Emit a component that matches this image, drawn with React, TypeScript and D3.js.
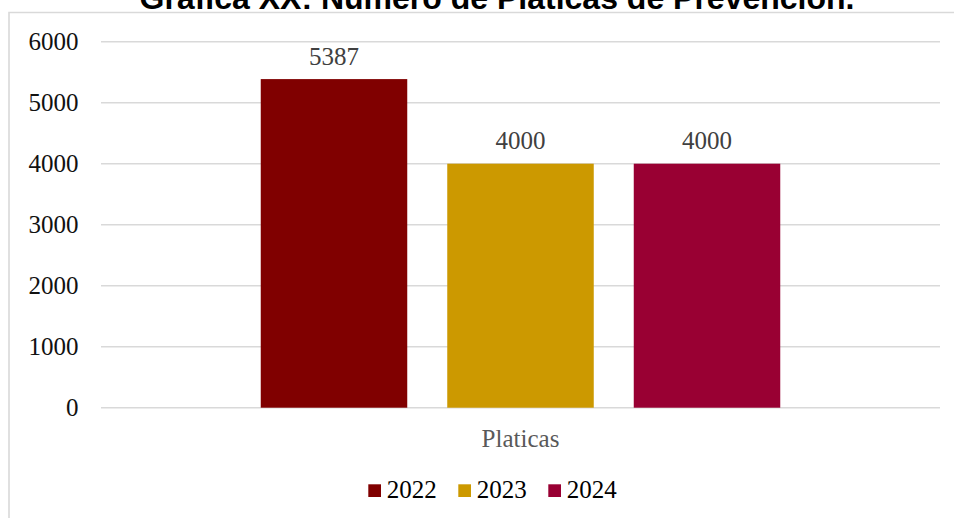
import React from "react";
import * as d3 from "d3";

const categories = ["Platicas"];
const seriesNames = ["2022", "2023", "2024"];
const seriesValues = [5387, 4000, 4000];
const seriesColors = ["#800000", "#CC9900", "#990033"];
const yTicks = [0, 1000, 2000, 3000, 4000, 5000, 6000];
const title = "Gráfica XX: Número de Pláticas de Prevención.";

export default function App() {
  const W = 954;
  const H = 518;
  const plotLeft = 101;
  const plotRight = 940;
  const plotTop = 41.7;
  const plotBottom = 407.7;
  const serif = "'Liberation Serif', 'Times New Roman', serif";

  const y = d3.scaleLinear().domain([0, 6000]).range([plotBottom, plotTop]);
  const x0 = d3
    .scaleBand<string>()
    .domain(categories)
    .range([plotLeft, plotRight])
    .paddingInner(0)
    .paddingOuter(0.3075);
  const x1 = d3
    .scaleBand<string>()
    .domain(seriesNames)
    .range([0, x0.bandwidth()])
    .paddingInner(0.2145)
    .paddingOuter(0);

  const legendX = [368.3, 458.3, 548.3];

  return (
    <svg
      width={W}
      height={H}
      style={{ position: "absolute", left: 0, top: 0, background: "#fff" }}
    >
      <rect x={0} y={0} width={W} height={H} fill="#fff" />
      {/* chart frame */}
      <path
        d={`M9,${H + 5} L9,12.5 L${W + 5},12.5`}
        fill="none"
        stroke="#d9d9d9"
        strokeWidth={1.6}
      />
      {/* title */}
      <text
        x={497}
        y={8.5}
        textAnchor="middle"
        fontFamily="'Liberation Sans', Arial, sans-serif"
        fontWeight="bold"
        fontSize={32}
        fill="#000"
      >
        {title}
      </text>
      {/* gridlines and ticks */}
      {yTicks.map((t) => (
        <g key={t}>
          <line
            x1={plotLeft}
            x2={plotRight}
            y1={y(t)}
            y2={y(t)}
            stroke="#d9d9d9"
            strokeWidth={1.4}
          />
          <text
            x={78.5}
            y={y(t)}
            dy="0.34em"
            textAnchor="end"
            fontFamily={serif}
            fontSize={25}
            fill="#111"
          >
            {t}
          </text>
        </g>
      ))}
      {/* bars */}
      {categories.map((c) => (
        <g key={c} transform={`translate(${x0(c)},0)`}>
          {seriesNames.map((s, i) => (
            <g key={s}>
              <rect
                x={x1(s)}
                y={y(seriesValues[i])}
                width={x1.bandwidth()}
                height={y(0) - y(seriesValues[i])}
                fill={seriesColors[i]}
              />
              <text
                x={(x1(s) as number) + x1.bandwidth() / 2}
                y={y(seriesValues[i]) - 14.5}
                textAnchor="middle"
                fontFamily={serif}
                fontSize={25}
                fill="#404040"
              >
                {seriesValues[i]}
              </text>
            </g>
          ))}
          <text
            x={x0.bandwidth() / 2}
            y={446.5}
            textAnchor="middle"
            fontFamily={serif}
            fontSize={25}
            fill="#595959"
          >
            {c}
          </text>
        </g>
      ))}
      {/* legend */}
      {seriesNames.map((s, i) => (
        <g key={s}>
          <rect
            x={legendX[i]}
            y={484.3}
            width={12.7}
            height={12.7}
            fill={seriesColors[i]}
          />
          <text
            x={legendX[i] + 18.4}
            y={498}
            fontFamily={serif}
            fontSize={25}
            fill="#000"
          >
            {s}
          </text>
        </g>
      ))}
    </svg>
  );
}
